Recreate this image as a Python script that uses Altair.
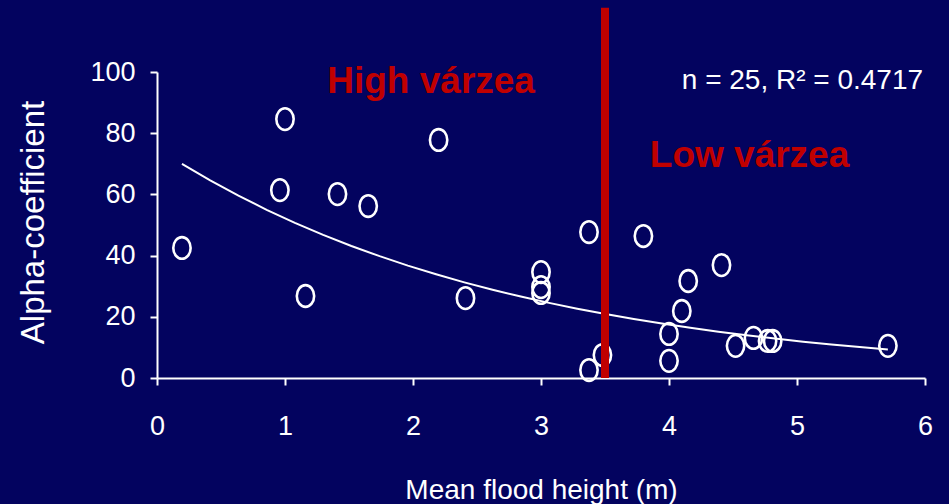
import altair as alt
import pandas as pd

# Mean flood height (m) and alpha-coefficient for each of the 25 sites
flood_height = [0.195, 1.00, 0.96, 1.16, 1.41, 1.65, 2.20, 2.41, 3.00, 3.00,
                3.00, 3.375, 3.375, 3.48, 3.80, 4.00, 4.00, 4.10, 4.15, 4.41,
                4.52, 4.66, 4.77, 4.81, 5.71]
alpha = [42.5, 84.6, 61.4, 26.8, 60.1, 56.2, 77.8, 26.1, 34.6, 29.7,
         27.8, 47.7, 2.6, 7.5, 46.4, 14.4, 5.6, 21.9, 31.7, 36.9,
         10.5, 13.1, 12.1, 12.1, 10.5]

# Boundary between high and low várzea (m)
split_height = [3.5]

# Annotation texts
zone_labels = ["High várzea", "Low várzea"]
fit_label = ["n = 25, R² = 0.4717"]

BG = "#03035f"
RED = "#c00000"
FONT = "Liberation Sans"

df = pd.DataFrame({"height": flood_height, "alpha": alpha})

x_scale = alt.Scale(domain=[0, 6], nice=False)
y_scale = alt.Scale(domain=[0, 100], nice=False)

x_axis = alt.Axis(
    values=[0, 1, 2, 3, 4, 5, 6], format="d", grid=False, labelFlush=False,
    labelFontSize=27, labelPadding=49, labelBaseline="alphabetic",
    title="Mean flood height (m)", titleFontSize=28, titleFontWeight="normal",
    titleX=384, titleY=120, titleAlign="center", titleBaseline="alphabetic",
)
y_axis = alt.Axis(
    values=[0, 20, 40, 60, 80, 100], format="d", grid=False, labelFlush=False,
    labelFontSize=27, labelPadding=15,
    title="Alpha-coefficient", titleFontSize=33, titleFontWeight="normal",
    titleAngle=-90, titleX=-124, titleY=150, titleAlign="center",
    titleBaseline="middle",
)

base = alt.Chart(df)

# Exponential trend: least squares on log(alpha), sampled along the data range
trend = base.transform_calculate(
    logalpha="log(datum.alpha)"
).transform_regression(
    "height", "logalpha", method="poly", order=1
).transform_calculate(
    fit="exp(datum.logalpha)"
).mark_line(color="white", strokeWidth=2).encode(
    x=alt.X("height:Q", scale=x_scale, axis=x_axis),
    y=alt.Y("fit:Q", scale=y_scale, axis=y_axis),
)

ellipse = ("M0,-1 C0.442,-1 0.8,-0.552 0.8,0 C0.8,0.552 0.442,1 0,1 "
           "C-0.442,1 -0.8,0.552 -0.8,0 C-0.8,-0.552 -0.442,-1 0,-1 Z")

points = base.mark_point(
    shape=ellipse, size=470, filled=False, stroke="white",
    strokeWidth=2.6, opacity=1,
).encode(
    x=alt.X("height:Q", scale=x_scale),
    y=alt.Y("alpha:Q", scale=y_scale),
)

split = alt.Chart(pd.DataFrame({"h": split_height})).mark_rule(
    color=RED, strokeWidth=8, clip=False,
).encode(
    x=alt.X("h:Q", scale=x_scale),
    y=alt.datum(0),
    y2=alt.datum(121),
)

zones = alt.Chart(pd.DataFrame({
    "label": zone_labels, "x": [1.33, 3.85], "y": [93.1, 69.0],
})).mark_text(
    color=RED, font=FONT, fontSize=37, fontWeight="bold",
    align="left", baseline="alphabetic",
).encode(
    x=alt.X("x:Q", scale=x_scale),
    y=alt.Y("y:Q", scale=y_scale),
    text="label:N",
)

stats = alt.Chart(pd.DataFrame({
    "label": fit_label, "x": [5.985], "y": [94.4],
})).mark_text(
    color="white", font=FONT, fontSize=28,
    align="right", baseline="alphabetic",
).encode(
    x=alt.X("x:Q", scale=x_scale),
    y=alt.Y("y:Q", scale=y_scale),
    text="label:N",
)

chart = alt.layer(trend, points, split, zones, stats).properties(
    width=768, height=306,
    autosize=alt.AutoSizeParams(type="none"),
    padding={"left": 157, "top": 72, "right": 24, "bottom": 126},
    background=BG,
).configure_view(
    stroke=None,
).configure_axis(
    domainColor="white", domainWidth=2,
    tickColor="white", tickWidth=2, tickSize=7,
    labelColor="white", titleColor="white",
    labelFont=FONT, titleFont=FONT,
)

chart.save("out.html", embed_options={"renderer": "svg", "actions": False})
